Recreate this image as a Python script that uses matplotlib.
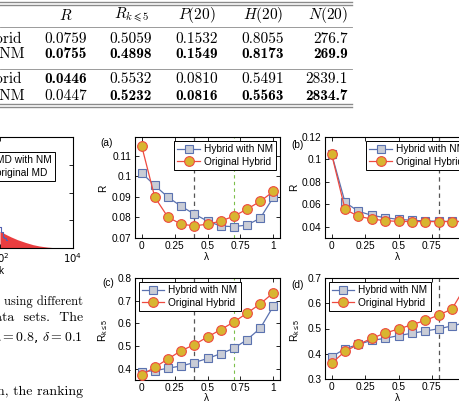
import matplotlib
matplotlib.use("Agg")
import matplotlib.pyplot as plt
from matplotlib.lines import Line2D

W, H = 460, 404

# ---- data ----
lam = [0.0, 0.1, 0.2, 0.3, 0.4, 0.5, 0.6, 0.7, 0.8, 0.9, 1.0]

a_nm = [0.1016, 0.0955, 0.0898, 0.0854, 0.0816, 0.0782, 0.0758, 0.0755, 0.0763, 0.0796, 0.0898]
a_orig = [0.1148, 0.0898, 0.0801, 0.0767, 0.0759, 0.0767, 0.0782, 0.0806, 0.0840, 0.0878, 0.0926]
b_nm = [0.1047, 0.0618, 0.0538, 0.0502, 0.0481, 0.0466, 0.0458, 0.0452, 0.0449, 0.0448, 0.0447]
b_orig = [0.1045, 0.0556, 0.0493, 0.0469, 0.0454, 0.0448, 0.0446, 0.0446, 0.0446, 0.0446, 0.0447]
c_nm = [0.387, 0.391, 0.402, 0.412, 0.427, 0.445, 0.466, 0.4898, 0.528, 0.578, 0.676]
c_orig = [0.372, 0.406, 0.443, 0.479, 0.5059, 0.540, 0.572, 0.606, 0.645, 0.686, 0.735]
d_nm = [0.388, 0.420, 0.437, 0.453, 0.461, 0.472, 0.481, 0.490, 0.499, 0.510, 0.5232]
d_orig = [0.362, 0.410, 0.437, 0.461, 0.482, 0.498, 0.515, 0.532, 0.5532, 0.577, 0.666]

# best lambda per method (gray = original, green = with NM)
best_orig = {"a": 0.4, "b": 0.8, "c": 0.4, "d": 0.8}
best_nm = {"a": 0.7, "b": 1.0, "c": 0.7, "d": 1.0}

xticks = [0, 0.25, 0.5, 0.75, 1]
xticklabels = ["0", "0.25", "0.5", "0.75", "1"]
a_yticks = [0.07, 0.08, 0.09, 0.10, 0.11]
a_yticklabels = ["0.07", "0.08", "0.09", "0.1", "0.11"]
b_yticks = [0.04, 0.06, 0.08, 0.10, 0.12]
b_yticklabels = ["0.04", "0.06", "0.08", "0.1", "0.12"]
c_yticks = [0.4, 0.5, 0.6, 0.7, 0.8]
c_yticklabels = ["0.4", "0.5", "0.6", "0.7", "0.8"]
d_yticks = [0.3, 0.4, 0.5, 0.6, 0.7]
d_yticklabels = ["0.3", "0.4", "0.5", "0.6", "0.7"]

# degree distribution panel on the left (partly cropped)
k_vals = [100, 150, 200, 300, 500, 800, 1200, 2000, 3000, 4500]
p_orig = [0.15, 0.12, 0.10, 0.075, 0.05, 0.03, 0.018, 0.008, 0.003, 0.0]
k_nm = [100, 110, 125, 140, 160]
p_nm = [0.19, 0.14, 0.10, 0.09, 0.07]

# table
col_heads = [r"$R$", r"$R_{k\leqslant 5}$", r"$P(20)$", r"$H(20)$", r"$N(20)$"]
row_names = ["Hybrid", "Hybrid with NM", "Hybrid", "Hybrid with NM"]
table_vals = [
    ["0.0759", "0.5059", "0.1532", "0.8055", "276.7"],
    ["0.0755", "0.4898", "0.1549", "0.8173", "269.9"],
    ["0.0446", "0.5532", "0.0810", "0.5491", "2839.1"],
    ["0.0447", "0.5232", "0.0816", "0.5563", "2834.7"],
]
table_bold = [
    [0, 0, 0, 0, 0],
    [1, 1, 1, 1, 1],
    [1, 0, 0, 0, 0],
    [0, 1, 1, 1, 1],
]

BLUE = "#5b72b0"
SQ_FACE = "#c9ccd6"
RED = "#ee4a40"
CIRC_FACE = "#d8b530"
GRAY_DASH = "#555555"
GREEN_DASH = "#7cbf4a"
SANS = "Liberation Sans"


def fx(x):
    return x / W


def fy(y):
    return 1 - y / H


def box(x0, y0, x1, y1):
    return [x0 / W, 1 - y1 / H, (x1 - x0) / W, (y1 - y0) / H]


def ptext(fig, x, y, s, **kw):
    kw.setdefault("va", "center")
    fig.text(fx(x), fy(y), s, **kw)


def hrule(fig, y, x0, x1, lw):
    fig.add_artist(Line2D([fx(x0), fx(x1)], [fy(y), fy(y)], color="#8a8a8a",
                          lw=lw, transform=fig.transFigure))


def style_axes(ax):
    for s in ax.spines.values():
        s.set_linewidth(0.8)
    ax.tick_params(direction="in", length=3, width=0.6, top=True, right=True,
                   labelsize=7.3, pad=2.5)
    for lab in ax.get_xticklabels() + ax.get_yticklabels():
        lab.set_fontfamily(SANS)


def panel(fig, rect, nm, orig, key, ylim, yticks, yticklabels, loc):
    ax = fig.add_axes(rect)
    ax.axvline(best_orig[key], color=GRAY_DASH, lw=0.9, dashes=(3.5, 3), zorder=1)
    ax.axvline(best_nm[key], color=GREEN_DASH, lw=0.8, dashes=(3, 3), zorder=1)
    ax.plot(lam, nm, color=BLUE, lw=0.9, marker="s", ms=5.2, mfc=SQ_FACE,
            mec=BLUE, mew=0.8, label="Hybrid with NM", zorder=3)
    ax.plot(lam, orig, color=RED, lw=0.9, marker="o", ms=7, mfc=CIRC_FACE,
            mec=RED, mew=0.8, label="Original Hybrid", zorder=3)
    ax.set_xlim(-0.05, 1.05)
    ax.set_ylim(*ylim)
    ax.set_xticks(xticks)
    ax.set_xticklabels(xticklabels)
    ax.set_yticks(yticks)
    ax.set_yticklabels(yticklabels)
    style_axes(ax)
    leg = ax.legend(loc=loc, prop={"family": SANS, "size": 7.3}, fancybox=False,
                    framealpha=1, edgecolor="black", handlelength=2.2,
                    handletextpad=0.4, borderpad=0.3, labelspacing=0.25,
                    borderaxespad=0.4)
    leg.get_frame().set_linewidth(0.7)
    leg.set_zorder(5)
    return ax


fig = plt.figure(figsize=(W / 100, H / 100), dpi=100)

# ---- table ----
hrule(fig, 1.5, 0, 352, 1.0)
hrule(fig, 4.5, 0, 352, 1.0)
hrule(fig, 27, 0, 352, 0.6)
hrule(fig, 69, 0, 352, 0.6)
hrule(fig, 103.5, 0, 352, 1.0)
hrule(fig, 106.5, 0, 352, 1.0)

col_x = [66, 131, 197, 263, 348]
col_ha = ["center", "center", "center", "center", "right"]
for x, ha, head in zip(col_x, col_ha, col_heads):
    ptext(fig, x, 15, head, ha=ha, fontsize=11, math_fontfamily="cm")

row_y = [39, 54, 79, 96]
row_right = [22, 25, 22, 25]
for y, xr, name, vals, bolds in zip(row_y, row_right, row_names, table_vals, table_bold):
    ptext(fig, xr, y, name, ha="right", fontsize=11, family="cmr10")
    for x, ha, v, b in zip(col_x, col_ha, vals, bolds):
        ptext(fig, x, y, v, ha=ha, fontsize=11, family="cmb10" if b else "cmr10")

# ---- body text of the page ----
ptext(fig, 83, 302, "using different", ha="right", fontsize=9, family="cmr10")
ptext(fig, 83, 318, "two  data  sets.  The", ha="right", fontsize=10, family="cmr10")
ptext(fig, 83, 337, r"$\lambda = 0.8$, $\delta = 0.1$", ha="right", fontsize=10,
      math_fontfamily="cm")
ptext(fig, 83, 392, "tion, the ranking", ha="right", fontsize=10, family="cmr10")

# ---- left (cropped) degree-distribution panel ----
axl = fig.add_axes(box(-73, 137, 73, 248))
axl.set_xscale("log")
axl.fill_between(k_vals, 0, p_orig, color="#e8282a", lw=0, alpha=0.9,
                 label="original MD")
axl.step(k_nm, p_nm, where="mid", color="#5560b0", lw=0.8, label="MD with NM")
axl.set_xlim(1, 1e4)
axl.set_ylim(0, 1)
axl.set_xticks([1, 1e2, 1e4])
axl.set_yticks([0.25, 0.5, 0.75])
axl.set_yticklabels([])
style_axes(axl)
axl.tick_params(which="minor", length=0)
axl.set_xticklabels(["", r"$10^2$", r"$10^4$"], math_fontfamily="dejavusans")
h, l = axl.get_legend_handles_labels()
legl = axl.legend(h[::-1], l[::-1], loc="upper right", bbox_to_anchor=(0.91, 0.91),
                  prop={"family": SANS, "size": 7.3}, fancybox=False, framealpha=1,
                  edgecolor="black", borderpad=0.3, labelspacing=0.25)
legl.get_frame().set_linewidth(0.7)
ptext(fig, 1, 271, "k", ha="center", fontsize=7.3, family=SANS)

# ---- four lambda panels ----
axa = panel(fig, box(135, 137, 280, 238), a_nm, a_orig, "a", (0.07, 0.119),
            a_yticks, a_yticklabels, "upper right")
axb = panel(fig, box(325, 137, 472, 238), b_nm, b_orig, "b", (0.03, 0.12),
            b_yticks, b_yticklabels, "upper right")
axc = panel(fig, box(135, 278, 280, 380), c_nm, c_orig, "c", (0.35, 0.8),
            c_yticks, c_yticklabels, "upper left")
axd = panel(fig, box(325, 278, 472, 379), d_nm, d_orig, "d", (0.3, 0.7),
            d_yticks, d_yticklabels, "upper left")

for x, y, s in [(107, 143, "(a)"), (297, 145, "(b)"), (108, 283, "(c)"), (298, 285, "(d)")]:
    ptext(fig, x, y, s, ha="center", fontsize=7.3, family=SANS)
for x, y in [(103, 188), (294, 187)]:
    ptext(fig, x, y, "R", ha="center", rotation=90, fontsize=7.3, family=SANS)
for x, y in [(103, 330), (295, 330)]:
    ptext(fig, x, y, r"$\mathregular{R_{k\leq5}}$", ha="center", rotation=90,
          fontsize=7.3, family=SANS)
for x, y in [(207, 257), (398, 257), (207, 398), (398, 398)]:
    ptext(fig, x, y, "λ", ha="center", fontsize=7.3, family=SANS)

fig.savefig("out.png", dpi=100)
